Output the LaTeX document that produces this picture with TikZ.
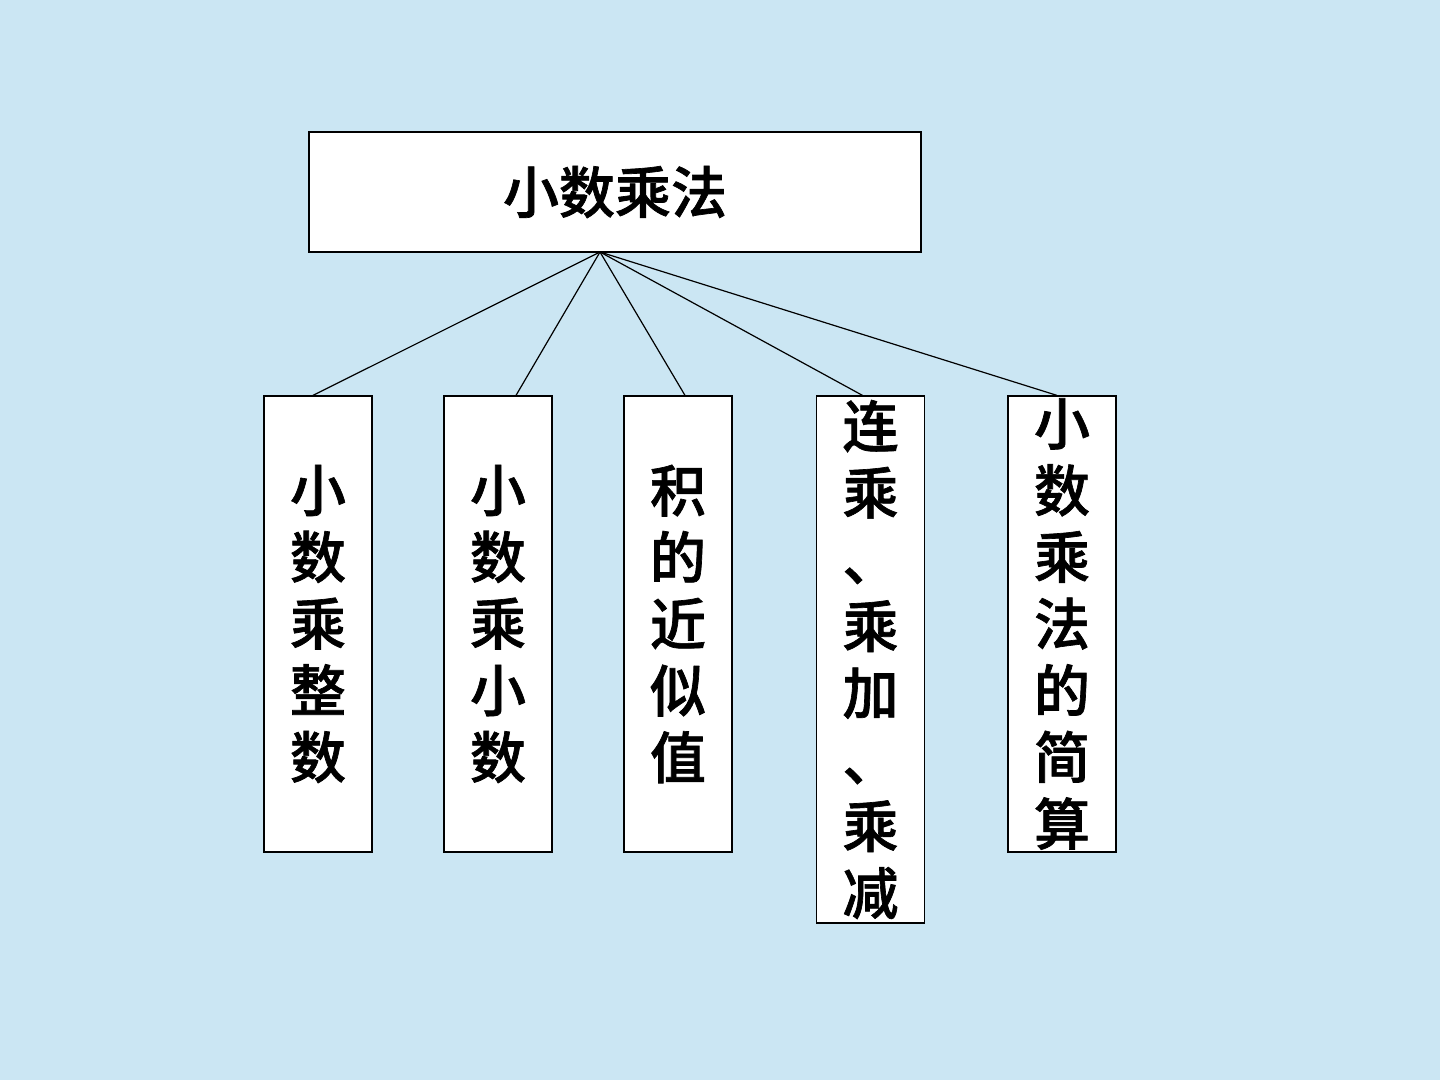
\documentclass[tikz,border=0pt]{standalone}
\usepackage{fontspec}
\IfFontExistsTF{Noto Sans CJK SC Medium}
  {\newfontfamily\cjk{Noto Sans CJK SC Medium}[FakeBold=1.2]}
  {\newfontfamily\cjk{Noto Sans CJK SC}[FakeBold=2.5]}
\definecolor{bgblue}{RGB}{203,230,243}
\tikzset{
  topbox/.style={draw=black, line width=0.6pt, fill=white, minimum width=306pt, minimum height=60pt, inner sep=0pt,
    font=\cjk\fontsize{28pt}{34pt}\selectfont},
  vbox/.style={draw=black, line width=0.6pt, fill=white, minimum width=54pt, inner sep=0pt, align=center,
    font=\cjk\fontsize{28pt}{33.35pt}\selectfont},
  link/.style={draw=black, line width=0.6pt}
}
\begin{document}
\begin{tikzpicture}[x=0.5pt, y=-0.5pt]
  \fill[bgblue] (0,0) rectangle (1440,1080);
  \useasboundingbox (0,0) rectangle (1440,1080);

  \node[topbox] (root) at (615,192) {小数乘法};
  \coordinate (hub) at (600,252);

  \node[vbox, minimum height=228pt] (b1) at (318,624) {小\\数\\乘\\整\\数};
  \node[vbox, minimum height=228pt] (b2) at (498,624) {小\\数\\乘\\小\\数};
  \node[vbox, minimum height=228pt] (b3) at (678,624) {积\\的\\近\\似\\值};
  \node[vbox, minimum height=263.5pt] (b4) at (870.5,659.5) {连\\乘\\、\\乘\\加\\、\\乘\\减};
  \node[vbox, minimum height=228pt] (b5) at (1062,624) {小\\数\\乘\\法\\的\\简\\算};

  \draw[link] (hub) -- ([xshift=-2.5pt]b1.north);
  \draw[link] (hub) -- ([xshift=9pt]b2.north);
  \draw[link] (hub) -- ([xshift=3.5pt]b3.north);
  \draw[link] (hub) -- ([xshift=-4pt]b4.north);
  \draw[link] (hub) -- ([xshift=-2.5pt]b5.north);
\end{tikzpicture}
\end{document}
